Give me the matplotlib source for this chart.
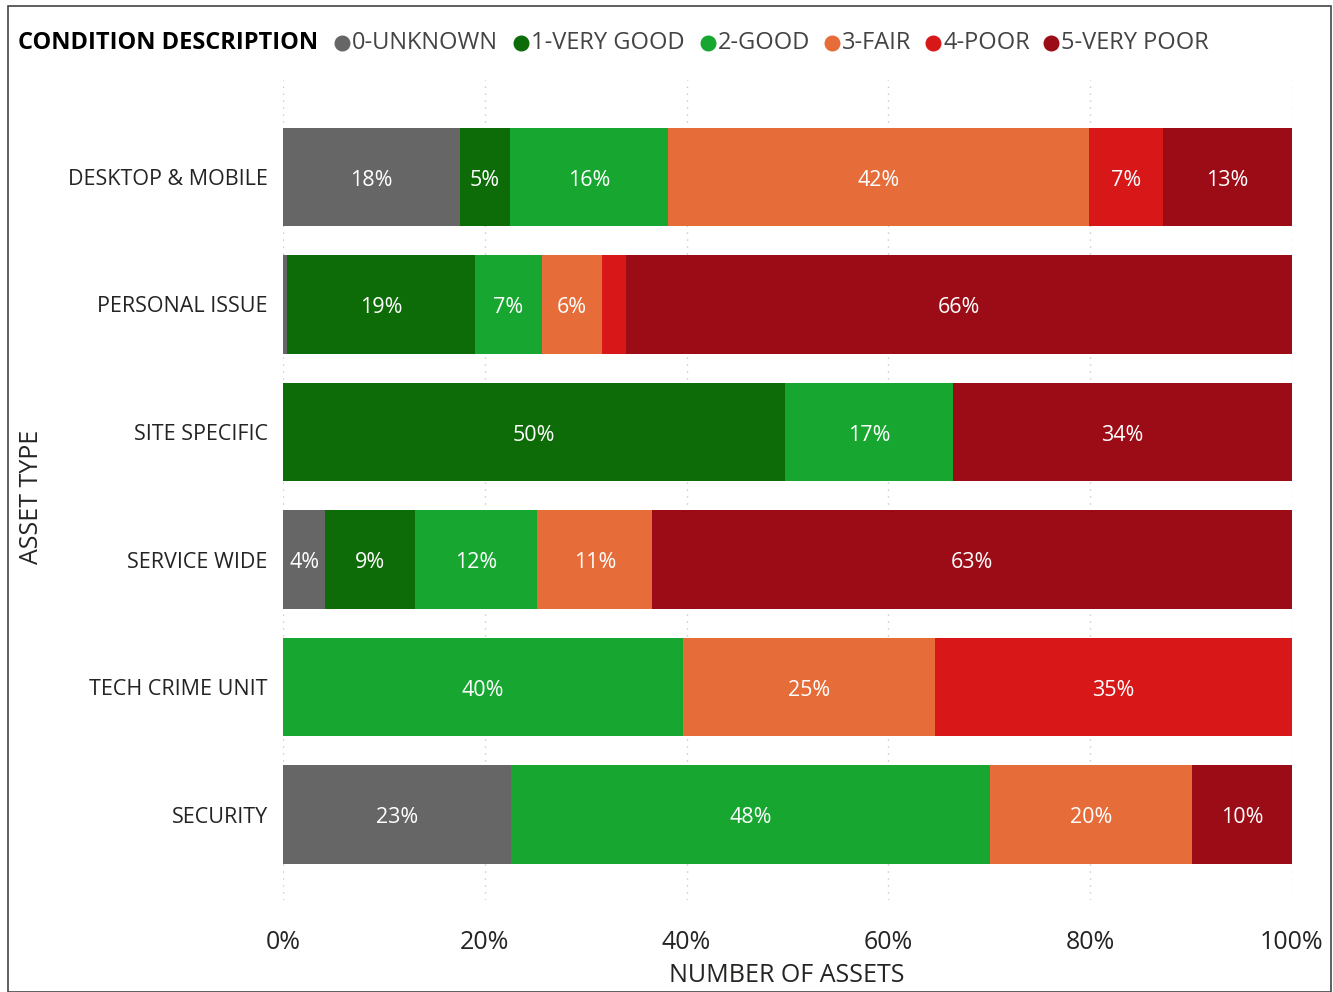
import matplotlib
matplotlib.use("Agg")
import matplotlib.pyplot as plt
from matplotlib.patches import Rectangle
from matplotlib.lines import Line2D
import numpy as np

plt.rcParams['font.family'] = ['Open Sans', 'DejaVu Sans']

categories = ["DESKTOP & MOBILE", "PERSONAL ISSUE", "SITE SPECIFIC",
              "SERVICE WIDE", "TECH CRIME UNIT", "SECURITY"]
series_names = ["0-UNKNOWN", "1-VERY GOOD", "2-GOOD", "3-FAIR", "4-POOR", "5-VERY POOR"]
unknown   = [17.5, 0.4, 0.0, 4.2, 0.0, 22.6]
very_good = [5.0, 18.6, 49.8, 8.9, 0.0, 0.0]
good      = [15.7, 6.7, 16.6, 12.1, 39.6, 47.5]
fair      = [41.7, 5.9, 0.0, 11.4, 25.0, 20.0]
poor      = [7.3, 2.4, 0.0, 0.0, 35.4, 0.0]
very_poor = [12.8, 66.0, 33.6, 63.4, 0.0, 9.9]
xticks = [0, 20, 40, 60, 80, 100]
xtick_labels = ["0%", "20%", "40%", "60%", "80%", "100%"]

colors = ["#666666", "#0d6b08", "#17a731", "#e66d3a", "#d81818", "#9b0c17"]
series = [unknown, very_good, good, fair, poor, very_poor]

fig = plt.figure(figsize=(13.33, 9.92), dpi=100)
ax = fig.add_axes([283/1333, 1-900/992, (1292-283)/1333, (900-80)/992])

y = np.arange(len(categories))
left = np.zeros(len(categories))
for vals, col in zip(series, colors):
    vals = np.array(vals)
    ax.barh(y, vals, left=left, height=0.77, color=col, zorder=2)
    for i, (v, l) in enumerate(zip(vals, left)):
        if v >= 3.5:
            ax.text(l + v/2, y[i] + 0.025, f"{round(v):.0f}%", ha='center', va='center',
                    color='white', fontsize=15.5, zorder=3)
    left += vals

ax.set_xlim(0, 100)
ax.set_ylim(5.67, -0.76)
ax.set_yticks(y)
ax.set_yticklabels(categories, fontsize=15.5, color='#252423')
ax.set_xticks(xticks)
ax.set_xticklabels(xtick_labels, fontsize=18, color='#252423')
ax.tick_params(axis='both', length=0)
ax.tick_params(axis='x', pad=21.5)
ax.tick_params(axis='y', pad=11)
for s in ax.spines.values():
    s.set_visible(False)
ax.grid(axis='x', linestyle=(0, (1, 4)), color='#c8c8c8', linewidth=1, zorder=0)
ax.set_axisbelow(True)

fig.text(787/1333, 1-975/992, "NUMBER OF ASSETS", ha='center', va='center',
         fontsize=18, color='#252423')
fig.text(32/1333, 1-497/992, "ASSET TYPE", ha='center', va='center', rotation=90,
         fontsize=18, color='#252423')

# Legend
ly = 1 - 43/992
fig.text(18/1333, ly, "CONDITION DESCRIPTION", ha='left', va='center',
         fontsize=17, fontweight='bold', color='#000000')
circle_x = [342, 521, 708, 832, 933, 1051]
for cx, name, col in zip(circle_x, series_names, colors):
    fig.add_artist(Line2D([cx/1333], [ly], marker='o', markersize=10.5, color=col,
                          linestyle='none', transform=fig.transFigure))
    fig.text((cx+10)/1333, ly, name, ha='left', va='center', fontsize=17,
             color='#444444')

# frame
fig.add_artist(Rectangle((8/1333, 0), (1331-8)/1333, (992-6)/992,
                         transform=fig.transFigure, fill=False,
                         edgecolor='#444444', linewidth=1.2))

fig.savefig("out.png", dpi=100)
